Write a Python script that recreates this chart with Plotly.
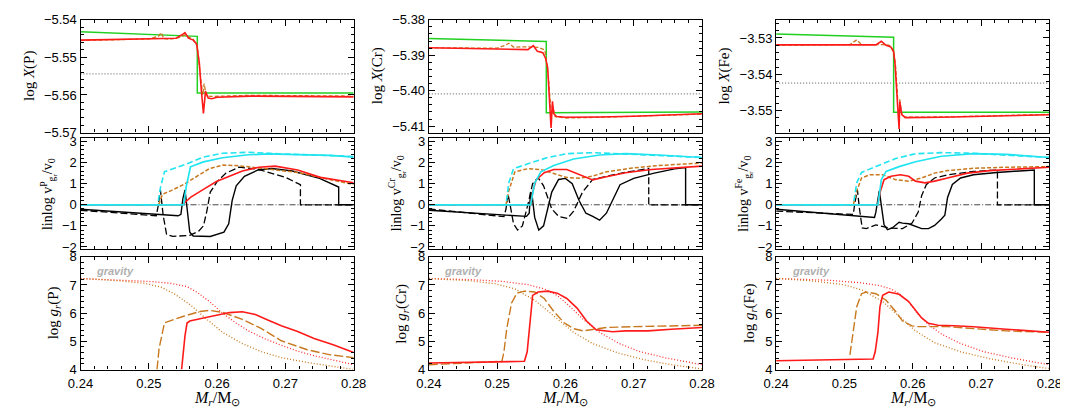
import plotly.graph_objects as go

X_RANGE = [0.24, 0.28]
ELEMENTS = ["P", "Cr", "Fe"]

# ---------------- top row: log X ----------------
TOP_RANGES = [[-5.57, -5.54], [-5.4118, -5.38], [-3.556, -3.525]]
TOP_TICKS = [[-5.57, -5.56, -5.55, -5.54], [-5.41, -5.40, -5.39, -5.38], [-3.55, -3.54, -3.53]]
DOTTED_LEVEL = [-5.5544, -5.4009, -3.5424]

P_GREEN_X = [0.240, 0.2571, 0.2571, 0.280]
P_GREEN_Y = [-5.5432, -5.5444, -5.5595, -5.5595]
P_RED_X = [0.2400, 0.2450, 0.2500, 0.2540, 0.2550, 0.2553, 0.2558, 0.2565, 0.2570, 0.2574,
           0.2577, 0.2580, 0.2583, 0.2587, 0.2592, 0.2600, 0.2650, 0.2700, 0.2750, 0.2800]
P_RED_Y = [-5.5454, -5.5452, -5.5451, -5.5449, -5.5438, -5.5434, -5.5449, -5.5454, -5.5464, -5.5516,
           -5.5590, -5.5649, -5.5590, -5.5608, -5.5610, -5.5606, -5.5603, -5.5603, -5.5604, -5.5605]
P_BROWN_X = [0.2400, 0.2500, 0.2514, 0.2518, 0.2522, 0.2530, 0.2545, 0.2553, 0.2565, 0.2571,
             0.2575, 0.2579, 0.2581, 0.2584, 0.2590, 0.2650, 0.2800]
P_BROWN_Y = [-5.5455, -5.5451, -5.5444, -5.5434, -5.5450, -5.5452, -5.5447, -5.5440, -5.5452, -5.5470,
             -5.5540, -5.5600, -5.5570, -5.5602, -5.5604, -5.5601, -5.5603]

CR_GREEN_X = [0.240, 0.2572, 0.2572, 0.280]
CR_GREEN_Y = [-5.3853, -5.3861, -5.4062, -5.4060]
CR_RED_X = [0.240, 0.2545, 0.2553, 0.2559, 0.2567, 0.2571, 0.2574, 0.2576, 0.2579, 0.2581,
            0.2583, 0.2587, 0.2600, 0.2650, 0.2700, 0.2800]
CR_RED_Y = [-5.3879, -5.3884, -5.3873, -5.3889, -5.3893, -5.3909, -5.3935, -5.4014, -5.4105, -5.4030,
            -5.4065, -5.4073, -5.4075, -5.4074, -5.4072, -5.4065]
CR_BROWN_X = [0.240, 0.2500, 0.2512, 0.2517, 0.2524, 0.2545, 0.2560, 0.2570, 0.2575, 0.2579,
              0.2582, 0.2585, 0.2600, 0.2650, 0.2800]
CR_BROWN_Y = [-5.3879, -5.3880, -5.3872, -5.3866, -5.3877, -5.3876, -5.3878, -5.3885, -5.3960, -5.4060,
              -5.4050, -5.4073, -5.4077, -5.4075, -5.4066]

FE_GREEN_X = [0.240, 0.2572, 0.2572, 0.280]
FE_GREEN_Y = [-3.5289, -3.5298, -3.5504, -3.5504]
FE_RED_X = [0.240, 0.2499, 0.2546, 0.2554, 0.2561, 0.2568, 0.2572, 0.2574, 0.2577, 0.2580,
            0.2581, 0.2584, 0.2589, 0.2642, 0.280]
FE_RED_Y = [-3.5319, -3.5320, -3.5319, -3.5309, -3.5320, -3.5325, -3.5338, -3.5369, -3.5458, -3.5550,
            -3.5475, -3.5511, -3.5519, -3.5518, -3.5511]
FE_BROWN_X = [0.240, 0.2508, 0.2518, 0.2525, 0.2554, 0.2566, 0.2572, 0.2575, 0.2578, 0.2581,
              0.2584, 0.2590, 0.2650, 0.280]
FE_BROWN_Y = [-3.5320, -3.5318, -3.5305, -3.5318, -3.5318, -3.5320, -3.5335, -3.5380, -3.5470, -3.5470,
              -3.5512, -3.5518, -3.5517, -3.5510]

# ---------------- middle row: linlog v ----------------
MID_RANGE = [-2.1, 3.15]
ZERO_LEVEL = 0.0

P_CYAN_DASH_X = [0.240, 0.2513, 0.2517, 0.2523, 0.2551, 0.2580, 0.2608, 0.2646, 0.2694, 0.2742, 0.280]
P_CYAN_DASH_Y = [0, 0, 0.8, 1.57, 1.88, 2.26, 2.44, 2.49, 2.41, 2.35, 2.29]
P_CYAN_X = [0.240, 0.2551, 0.2555, 0.2561, 0.2580, 0.2608, 0.2646, 0.2675, 0.2718, 0.2766, 0.280]
P_CYAN_Y = [0, 0, 0.9, 1.80, 2.03, 2.23, 2.37, 2.41, 2.38, 2.34, 2.26]
P_BROWN_DASH_X = [0.240, 0.2513, 0.2515, 0.2520, 0.2532, 0.2551, 0.2570, 0.2589, 0.2608, 0.2627,
                  0.2646, 0.2670, 0.2718, 0.2766, 0.280]
P_BROWN_DASH_Y = [0, 0, 0.05, 0.5, 0.66, 0.96, 1.34, 1.72, 1.88, 1.86, 1.80, 1.72, 1.53, 1.19, 0.96]
P_VRED_X = [0.240, 0.2549, 0.2551, 0.2561, 0.2580, 0.2599, 0.2618, 0.2637, 0.2661, 0.2685, 0.2718, 0.2751, 0.280]
P_VRED_Y = [0, 0, 0.05, 0.35, 0.73, 1.10, 1.35, 1.60, 1.78, 1.83, 1.65, 1.30, 1.04]
P_BLACK_X = [0.240, 0.2543, 0.2547, 0.2550, 0.2553, 0.2556, 0.2560, 0.2565, 0.2590, 0.2610, 0.2617,
             0.2622, 0.2628, 0.2640, 0.2660, 0.2680, 0.2710, 0.2750, 0.2778, 0.2778, 0.280]
P_BLACK_Y = [-0.21, -0.52, -0.45, 0.3, 0.7, -0.2, -1.3, -1.48, -1.50, -1.30, -0.9,
             0.2, 0.9, 1.35, 1.65, 1.72, 1.6, 1.25, 0.84, 0, 0]
P_BLACK_DASH_X = [0.240, 0.2511, 0.2514, 0.2517, 0.2521, 0.2526, 0.2535, 0.2560, 0.2573, 0.2580, 0.2585,
                  0.2590, 0.2600, 0.2613, 0.2632, 0.2660, 0.2700, 0.2722, 0.2722, 0.280]
P_BLACK_DASH_Y = [-0.26, -0.52, 0.0, 0.7, -0.5, -1.4, -1.5, -1.45, -1.25, -1.0, -0.3,
                  0.6, 1.1, 1.5, 1.78, 1.68, 1.30, 0.95, 0, 0]

CR_CYAN_DASH_X = [0.240, 0.2513, 0.2517, 0.2524, 0.2545, 0.2574, 0.2602, 0.2640, 0.2679, 0.2721, 0.2769, 0.280]
CR_CYAN_DASH_Y = [0, 0, 1.03, 1.71, 1.94, 2.24, 2.42, 2.47, 2.42, 2.35, 2.29, 2.24]
CR_CYAN_X = [0.240, 0.2549, 0.2555, 0.2564, 0.2583, 0.2612, 0.2650, 0.2688, 0.2736, 0.280]
CR_CYAN_Y = [0, 0, 1.03, 1.56, 1.86, 2.17, 2.36, 2.42, 2.36, 2.24]
CR_BROWN_DASH_X = [0.240, 0.2513, 0.2517, 0.2526, 0.2545, 0.2564, 0.2583, 0.2602, 0.2621, 0.2640,
                   0.2660, 0.2698, 0.2736, 0.2769, 0.280]
CR_BROWN_DASH_Y = [0, 0, 0.65, 1.56, 1.71, 1.67, 1.48, 1.29, 1.26, 1.36, 1.56, 1.74, 1.86, 1.94, 1.98]
CR_VRED_X = [0.240, 0.2549, 0.2552, 0.2557, 0.2569, 0.2583, 0.2602, 0.2621, 0.2640, 0.2660,
             0.2688, 0.2726, 0.2764, 0.280]
CR_VRED_Y = [0, 0, 0.58, 1.18, 1.52, 1.67, 1.67, 1.41, 1.18, 1.33, 1.52, 1.67, 1.76, 1.83]
CR_BLACK_X = [0.240, 0.2543, 0.2547, 0.2549, 0.2551, 0.2555, 0.2561, 0.2568, 0.2580, 0.2590, 0.2600,
              0.2610, 0.2620, 0.2630, 0.2640, 0.2650, 0.2660, 0.2670, 0.2680, 0.2700, 0.2730,
              0.2760, 0.2776, 0.2776, 0.280]
CR_BLACK_Y = [-0.26, -0.55, -0.4, 0.6, 0.5, -0.6, -1.2, -1.0, 0.6, 1.2, 1.25,
              1.0, 0.2, -0.4, -0.55, -0.73, -0.4, 0.3, 0.95, 1.25, 1.5,
              1.7, 1.76, 0, 0]
CR_BLACK_DASH_X = [0.240, 0.2510, 0.2513, 0.2516, 0.2519, 0.2524, 0.2530, 0.2537, 0.2545, 0.2552, 0.2560,
                   0.2568, 0.2580, 0.2590, 0.2603, 0.2612, 0.2625, 0.2640, 0.2660, 0.2690, 0.2722,
                   0.2722, 0.280]
CR_BLACK_DASH_Y = [-0.2, -0.56, -0.2, 0.5, 0.0, -0.9, -1.2, -1.0, 0.0, 1.0, 1.28,
                   0.9, -0.2, -0.55, -0.65, -0.3, 0.6, 1.2, 1.35, 1.55, 1.72,
                   0, 0]

FE_CYAN_DASH_X = [0.240, 0.2513, 0.2518, 0.2525, 0.2546, 0.2575, 0.2604, 0.2642, 0.2680, 0.2728, 0.280]
FE_CYAN_DASH_Y = [0, 0, 1.04, 1.53, 1.81, 2.19, 2.42, 2.47, 2.45, 2.37, 2.24]
FE_CYAN_X = [0.240, 0.2549, 0.2554, 0.2561, 0.2580, 0.2604, 0.2642, 0.2689, 0.2737, 0.280]
FE_CYAN_Y = [0, 0, 1.19, 1.58, 1.81, 2.04, 2.30, 2.42, 2.39, 2.24]
FE_BROWN_DASH_X = [0.240, 0.2513, 0.2518, 0.2525, 0.2537, 0.2556, 0.2575, 0.2594, 0.2613, 0.2632,
                   0.2651, 0.2689, 0.2737, 0.280]
FE_BROWN_DASH_Y = [0, 0, 0.66, 1.27, 1.42, 1.42, 1.19, 1.12, 1.27, 1.50, 1.62, 1.73, 1.78, 1.81]
FE_VRED_X = [0.240, 0.2549, 0.2552, 0.2558, 0.2568, 0.2582, 0.2594, 0.2604, 0.2618, 0.2632,
             0.2651, 0.2680, 0.2713, 0.2761, 0.280]
FE_VRED_Y = [0, 0, 0.58, 1.19, 1.35, 1.42, 1.35, 1.12, 1.04, 1.12, 1.27, 1.50, 1.62, 1.70, 1.78]
FE_BLACK_X = [0.240, 0.2544, 0.2546, 0.2549, 0.2551, 0.2554, 0.2558, 0.2563, 0.2570, 0.2580, 0.2585,
              0.2594, 0.2604, 0.2613, 0.2623, 0.2632, 0.2642, 0.2647, 0.2651, 0.2658, 0.2670,
              0.2689, 0.2723, 0.2756, 0.2778, 0.2778, 0.280]
FE_BLACK_Y = [-0.21, -0.6, -0.35, 0.28, 0.66, -0.03, -0.95, -1.18, -1.1, -0.83, -0.87,
              -0.9, -1.03, -1.13, -1.13, -0.98, -0.67, -0.49, 0.35, 0.96, 1.27,
              1.42, 1.53, 1.61, 1.65, 0, 0]
FE_BLACK_DASH_X = [0.240, 0.2513, 0.2515, 0.2519, 0.2522, 0.2526, 0.2532, 0.2546, 0.2565, 0.2585,
                   0.2599, 0.2608, 0.2613, 0.2620, 0.2632, 0.2651, 0.2689, 0.2724, 0.2724, 0.280]
FE_BLACK_DASH_Y = [-0.3, -0.46, 0.05, 0.7, -0.2, -1.1, -1.13, -0.95, -1.1, -1.13,
                   -0.87, -0.34, 0.43, 0.96, 1.27, 1.42, 1.58, 1.65, 0, 0]

# ---------------- bottom row: log g_r ----------------
BOT_RANGE = [4, 8]

P_RDOT_X = [0.240, 0.2456, 0.2504, 0.2532, 0.2556, 0.2570, 0.2589, 0.2608, 0.2627, 0.2646, 0.2670,
            0.2694, 0.2718, 0.2742, 0.2770, 0.280]
P_RDOT_Y = [7.23, 7.17, 7.12, 7.06, 6.94, 6.75, 6.41, 6.00, 5.66, 5.37, 5.09, 4.86, 4.65, 4.49, 4.34, 4.17]
P_BDOT_X = [0.240, 0.2456, 0.2494, 0.2518, 0.2537, 0.2561, 0.2585, 0.2608, 0.2637, 0.2665, 0.2694,
            0.2732, 0.2770, 0.280]
P_BDOT_Y = [7.23, 7.15, 7.06, 6.92, 6.69, 6.29, 5.78, 5.32, 4.92, 4.63, 4.42, 4.25, 4.11, 4.00]
P_GBROWN_X = [0.2512, 0.2515, 0.2523, 0.2530, 0.2551, 0.2575, 0.2589, 0.2608, 0.2637, 0.2665,
              0.2694, 0.2732, 0.2766, 0.280]
P_GBROWN_Y = [4.0, 4.74, 5.66, 5.72, 5.89, 6.06, 6.10, 6.03, 5.78, 5.45, 5.02, 4.70, 4.52, 4.42]
P_GRED_X = [0.2548, 0.2553, 0.2556, 0.2560, 0.2575, 0.2599, 0.2618, 0.2637, 0.2656, 0.2675,
            0.2694, 0.2718, 0.2742, 0.2770, 0.280]
P_GRED_Y = [4.0, 5.2, 5.65, 5.72, 5.80, 5.92, 6.02, 6.05, 5.95, 5.75, 5.55, 5.35, 5.10, 4.88, 4.60]

CR_RDOT_X = [0.240, 0.2460, 0.2507, 0.2545, 0.2569, 0.2588, 0.2607, 0.2626, 0.2650, 0.2679, 0.2707,
             0.2745, 0.280]
CR_RDOT_Y = [7.23, 7.19, 7.13, 7.01, 6.86, 6.63, 6.23, 5.78, 5.32, 4.92, 4.65, 4.42, 4.17]
CR_BDOT_X = [0.240, 0.2460, 0.2498, 0.2526, 0.2555, 0.2583, 0.2612, 0.2640, 0.2679, 0.2717, 0.2755, 0.280]
CR_BDOT_Y = [7.23, 7.15, 7.04, 6.86, 6.46, 5.89, 5.32, 4.92, 4.57, 4.34, 4.17, 4.02]
CR_GBROWN_X = [0.240, 0.2507, 0.2510, 0.2514, 0.2521, 0.2529, 0.2540, 0.2555, 0.2569, 0.2583,
               0.2598, 0.2612, 0.2626, 0.2640, 0.2660, 0.2698, 0.2745, 0.280]
CR_GBROWN_Y = [4.17, 4.29, 4.63, 5.43, 6.35, 6.71, 6.78, 6.75, 6.52, 6.06,
               5.66, 5.45, 5.37, 5.41, 5.49, 5.52, 5.55, 5.57]
CR_GRED_X = [0.240, 0.2540, 0.2544, 0.2548, 0.2552, 0.2560, 0.2574, 0.2588, 0.2602, 0.2617,
             0.2631, 0.2645, 0.2660, 0.2669, 0.2688, 0.2721, 0.2755, 0.280]
CR_GRED_Y = [4.23, 4.29, 4.63, 5.78, 6.63, 6.75, 6.78, 6.71, 6.52, 6.18,
             5.72, 5.41, 5.37, 5.34, 5.37, 5.37, 5.43, 5.49]

FE_RDOT_X = [0.240, 0.2475, 0.2523, 0.2551, 0.2568, 0.2580, 0.2594, 0.2608, 0.2623, 0.2642, 0.2670,
             0.2704, 0.2747, 0.280]
FE_RDOT_Y = [7.23, 7.17, 7.08, 6.98, 6.86, 6.69, 6.41, 5.95, 5.60, 5.26, 4.92, 4.63, 4.40, 4.17]
FE_BDOT_X = [0.240, 0.2451, 0.2499, 0.2527, 0.2556, 0.2580, 0.2604, 0.2632, 0.2670, 0.2713, 0.2761, 0.280]
FE_BDOT_Y = [7.23, 7.15, 7.01, 6.81, 6.41, 5.89, 5.37, 4.95, 4.63, 4.38, 4.17, 4.03]
FE_GBROWN_X = [0.2508, 0.2512, 0.2518, 0.2525, 0.2532, 0.2546, 0.2561, 0.2575, 0.2585, 0.2599,
               0.2608, 0.2630, 0.2651, 0.2689, 0.2737, 0.280]
FE_GBROWN_Y = [4.52, 5.20, 6.23, 6.69, 6.75, 6.69, 6.46, 6.06, 5.72, 5.55,
               5.52, 5.52, 5.52, 5.45, 5.37, 5.32]
FE_GRED_X = [0.240, 0.2542, 0.2545, 0.2549, 0.2552, 0.2556, 0.2565, 0.2580, 0.2594, 0.2604,
             0.2613, 0.2623, 0.2637, 0.2661, 0.2689, 0.2737, 0.280]
FE_GRED_Y = [4.31, 4.37, 4.63, 5.32, 6.23, 6.63, 6.75, 6.67, 6.41, 6.12,
             5.83, 5.64, 5.57, 5.55, 5.52, 5.43, 5.32]

# ---------------- styles ----------------
RED = "#ff1a1a"
GREEN = "#22d022"
BROWN = "#c8781e"
CYAN = "#20e4f0"
STY = {
    "green": dict(color=GREEN, width=1.5),
    "red": dict(color=RED, width=1.6),
    "brown_top": dict(color=BROWN, width=1.3, dash="4px,2px"),
    "gray_dot": dict(color="#555555", width=1, dash="1px,2px"),
    "cyan_dash": dict(color=CYAN, width=1.6, dash="6px,3px"),
    "cyan": dict(color=CYAN, width=1.7),
    "brown_sdash": dict(color=BROWN, width=1.5, dash="4px,2px"),
    "black": dict(color="black", width=1.4),
    "black_dash": dict(color="black", width=1.3, dash="7px,3px"),
    "dashdot": dict(color="#333333", width=0.9, dash="6px,2px,1px,2px"),
    "red_dot": dict(color="#ff3030", width=1.3, dash="1px,2px"),
    "brown_dot": dict(color=BROWN, width=1.3, dash="1px,2px"),
    "brown_ldash": dict(color=BROWN, width=1.4, dash="9px,3px"),
}

TOP = [
    [(P_GREEN_X, P_GREEN_Y, "green"), (P_BROWN_X, P_BROWN_Y, "brown_top"), (P_RED_X, P_RED_Y, "red")],
    [(CR_GREEN_X, CR_GREEN_Y, "green"), (CR_BROWN_X, CR_BROWN_Y, "brown_top"), (CR_RED_X, CR_RED_Y, "red")],
    [(FE_GREEN_X, FE_GREEN_Y, "green"), (FE_BROWN_X, FE_BROWN_Y, "brown_top"), (FE_RED_X, FE_RED_Y, "red")],
]
MID = [
    [(P_BLACK_DASH_X, P_BLACK_DASH_Y, "black_dash"), (P_BLACK_X, P_BLACK_Y, "black"),
     (P_BROWN_DASH_X, P_BROWN_DASH_Y, "brown_sdash"), (P_VRED_X, P_VRED_Y, "red"),
     (P_CYAN_DASH_X, P_CYAN_DASH_Y, "cyan_dash"), (P_CYAN_X, P_CYAN_Y, "cyan")],
    [(CR_BLACK_DASH_X, CR_BLACK_DASH_Y, "black_dash"), (CR_BLACK_X, CR_BLACK_Y, "black"),
     (CR_BROWN_DASH_X, CR_BROWN_DASH_Y, "brown_sdash"), (CR_VRED_X, CR_VRED_Y, "red"),
     (CR_CYAN_DASH_X, CR_CYAN_DASH_Y, "cyan_dash"), (CR_CYAN_X, CR_CYAN_Y, "cyan")],
    [(FE_BLACK_DASH_X, FE_BLACK_DASH_Y, "black_dash"), (FE_BLACK_X, FE_BLACK_Y, "black"),
     (FE_BROWN_DASH_X, FE_BROWN_DASH_Y, "brown_sdash"), (FE_VRED_X, FE_VRED_Y, "red"),
     (FE_CYAN_DASH_X, FE_CYAN_DASH_Y, "cyan_dash"), (FE_CYAN_X, FE_CYAN_Y, "cyan")],
]
BOT = [
    [(P_RDOT_X, P_RDOT_Y, "red_dot"), (P_BDOT_X, P_BDOT_Y, "brown_dot"),
     (P_GBROWN_X, P_GBROWN_Y, "brown_ldash"), (P_GRED_X, P_GRED_Y, "red")],
    [(CR_RDOT_X, CR_RDOT_Y, "red_dot"), (CR_BDOT_X, CR_BDOT_Y, "brown_dot"),
     (CR_GBROWN_X, CR_GBROWN_Y, "brown_ldash"), (CR_GRED_X, CR_GRED_Y, "red")],
    [(FE_RDOT_X, FE_RDOT_Y, "red_dot"), (FE_BDOT_X, FE_BDOT_Y, "brown_dot"),
     (FE_GBROWN_X, FE_GBROWN_Y, "brown_ldash"), (FE_GRED_X, FE_GRED_Y, "red")],
]

W, H = 1068, 409
COL_PX = [(61, 341), (418, 698), (774, 1054)]
ROW_PX = [(5, 122), (128, 243), (251, 368)]
TITLE_OFF = [53, 33, 27]
TITLE_SIZE = [15, 14, 15]

TICK_FONT = dict(family="Liberation Sans", size=13, color="black")
SERIF = dict(family="Liberation Serif", size=16, color="black")

fig = go.Figure()
layout = dict(width=W, height=H, margin=dict(l=0, r=0, t=0, b=0),
              paper_bgcolor="white", plot_bgcolor="white", showlegend=False,
              annotations=[])


def axname(k, a):
    return a if k == 0 else f"{a}{k + 1}"


for r in range(3):
    for c in range(3):
        k = r * 3 + c
        xa, ya = axname(k, "x"), axname(k, "y")
        common = dict(showline=True, linecolor="black", linewidth=1.2, mirror="allticks",
                      ticks="inside", ticklen=6, tickwidth=1, tickcolor="black",
                      showgrid=False, zeroline=False, tickfont=TICK_FONT)
        x0, x1 = COL_PX[c]
        y0, y1 = ROW_PX[r]
        layout["xaxis" + xa[1:]] = dict(
            common, domain=[x0 / W, x1 / W], range=X_RANGE, anchor=ya,
            tick0=0.24, dtick=0.01, tickformat=".2f", showticklabels=(r == 2),
            ticklabelstandoff=2,
            minor=dict(ticks="inside", ticklen=3, dtick=0.002, tickcolor="black", showgrid=False))
        if r == 0:
            yr, ymin = TOP_RANGES[c], 0.002
            yextra = dict(tickvals=TOP_TICKS[c], tickformat=".2f")
        elif r == 1:
            yr, ymin = MID_RANGE, 0.2
            yextra = dict(tick0=0, dtick=1, tickformat="d")
        else:
            yr, ymin = BOT_RANGE, 0.2
            yextra = dict(tick0=0, dtick=1, tickformat="d")
        layout["yaxis" + ya[1:]] = dict(
            common, domain=[1 - y1 / H, 1 - y0 / H], range=yr, anchor=xa,
            minor=dict(ticks="inside", ticklen=3, dtick=ymin, tickcolor="black", showgrid=False),
            **yextra)

        groups = [TOP, MID, BOT][r][c]
        if r == 0:
            fig.add_trace(go.Scatter(x=X_RANGE, y=[DOTTED_LEVEL[c]] * 2, mode="lines",
                                     line=STY["gray_dot"], xaxis=xa, yaxis=ya, hoverinfo="skip"))
        if r == 1:
            fig.add_trace(go.Scatter(x=X_RANGE, y=[ZERO_LEVEL] * 2, mode="lines",
                                     line=STY["dashdot"], xaxis=xa, yaxis=ya, hoverinfo="skip"))
        for xs, ys, s in groups:
            fig.add_trace(go.Scatter(x=xs, y=ys, mode="lines", line=STY[s],
                                     xaxis=xa, yaxis=ya, hoverinfo="skip"))

        el = ELEMENTS[c]
        title = [f"log <i>X</i>({el})",
                 f"linlog v<sup>{el}</sup><sub>g<sub>r</sub></sub>/v<sub>0</sub>",
                 f"log <i>g<sub>r</sub></i>({el})"][r]
        layout["annotations"].append(dict(
            text=title, textangle=-90, xref="paper", yref="paper",
            x=(x0 - TITLE_OFF[r]) / W, y=1 - (y0 + y1) / 2 / H,
            xanchor="center", yanchor="middle", showarrow=False,
            font=dict(SERIF, size=TITLE_SIZE[r])))
        if r == 2:
            layout["annotations"].append(dict(
                text="gravity", xref=xa + " domain", yref=ya + " domain", x=0.05, y=0.87,
                xanchor="left", yanchor="middle", showarrow=False,
                font=dict(family="Liberation Sans", size=11, color="#b0b0b0", weight="bold",
                          style="italic")))
            layout["annotations"].append(dict(
                text="<i>M<sub>r</sub></i>/M<sub>⊙</sub>", xref="paper", yref="paper",
                x=(x0 + x1) / 2 / W, y=1 - 398 / H, xanchor="center", yanchor="middle",
                showarrow=False, font=SERIF))

fig.update_layout(**layout)
fig.write_html("out.html")
